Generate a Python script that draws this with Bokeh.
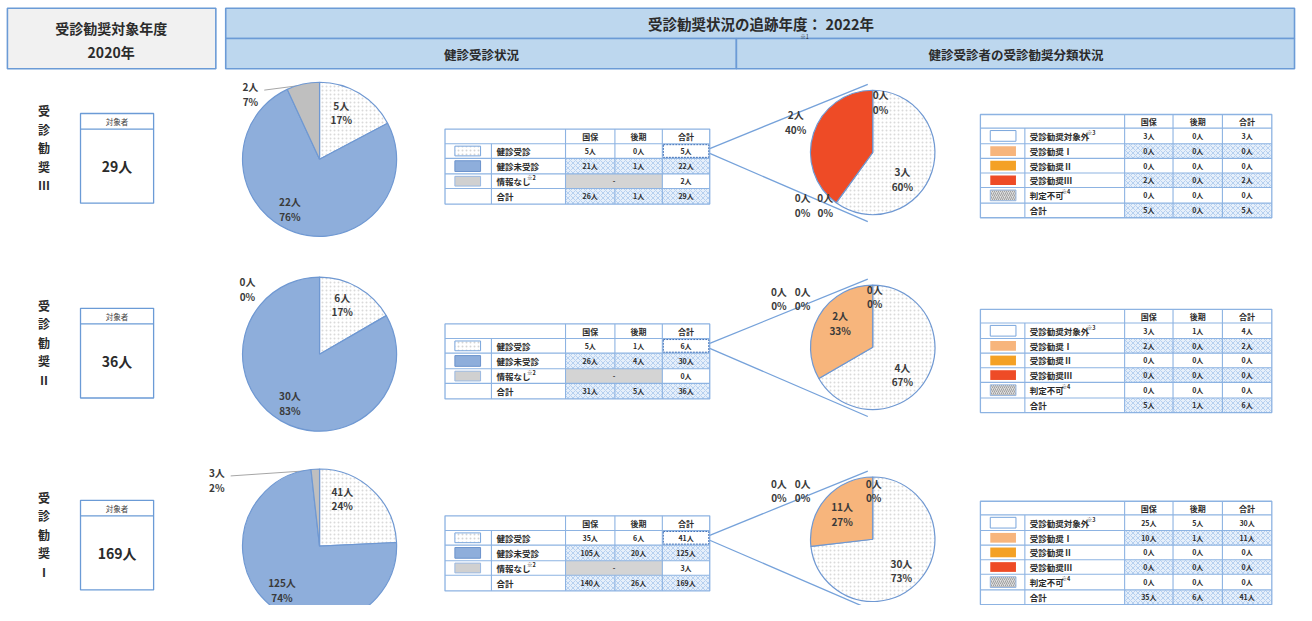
import math
from collections import defaultdict
from bokeh.plotting import figure
from bokeh.models import Range1d
from bokeh.embed import file_html
from bokeh.resources import INLINE
from bokeh.core.properties import value

# ---------------- data ----------------
grades = ["Ⅲ", "Ⅱ", "Ⅰ"]
targets = [29, 36, 169]
col_names = ["国保", "後期", "合計"]
exam_labels = ["健診受診", "健診未受診", "情報なし", "合計"]
exam_notes = ["", "", "※2", ""]
exam_kokuho = [[5, 21], [5, 26], [35, 105]]      # 健診受診, 健診未受診
exam_kouki = [[0, 1], [1, 4], [6, 20]]
exam_nodata = [2, 0, 3]
class_labels = ["受診勧奨対象外", "受診勧奨Ⅰ", "受診勧奨Ⅱ", "受診勧奨Ⅲ", "判定不可", "合計"]
class_notes = ["※3", "", "", "", "※4", ""]
class_kokuho = [[3, 0, 0, 2, 0], [3, 2, 0, 0, 0], [25, 10, 0, 0, 0]]
class_kouki = [[0, 0, 0, 0, 0], [1, 0, 0, 0, 0], [5, 1, 0, 0, 0]]

# ---------------- style ----------------
FONT = "Noto Sans CJK JP"
TXT = "#2b2b2b"
LINE_BLUE = "#6b9bd6"
GRID = "#8db3e2"
PIE_BLUE = "#8eaedb"
PIE_GRAY = "#bfbfbf"
CLASS_COLORS = ["#ffffff", "#f7b57c", "#f4a125", "#ee4b26", "#dcdcdc"]

ROW_DY = [0, 200, 397]
P1_LAB = [[(22, -48), (-30, 51), (-70, -67)],
          [(23, -51), (-30, 50), (-73, -67)],
          [(23, -49), (-38, 45), (-104, -68)]]
P2_LAB = [[(30, 27), (-71, 54), (-48, 54), (-78, -31), (8, -52)],
          [(30, 28), (-33, -25), (-95, -50), (-71, -50), (2, -52)],
          [(29, 32), (-31, -26), (-95, -50), (-71, -50), (1, -50)]]

p = figure(width=1296, height=605, x_range=Range1d(0, 1312), y_range=Range1d(621, 0),
           output_backend="svg", toolbar_location=None, min_border=0,
           x_axis_type=None, y_axis_type=None)
p.grid.visible = False
p.outline_line_color = None
p.background_fill_color = "white"
p.border_fill_color = "white"

QSTYLE = {
    "hdr_gray": dict(fill_color="#f1f1f1", line_color=LINE_BLUE, line_width=1.6),
    "hdr_blue": dict(fill_color="#bdd7ee", line_color=LINE_BLUE, line_width=1.6),
    "white_box": dict(fill_color="white", line_color=LINE_BLUE, line_width=1.3),
    "hatch_blue": dict(fill_color="#e6effa", line_color=None, hatch_pattern="diagonal_cross",
                       hatch_color="#a9c8ec", hatch_scale=5, hatch_weight=0.8),
    "gray_cell": dict(fill_color="#d4d4d4", line_color=None),
    "sw_white": dict(fill_color="white", line_color="#7aa6dc", line_width=1,
                     hatch_pattern="dot", hatch_color="#d4d4d4", hatch_scale=4),
    "sw_white2": dict(fill_color="white", line_color="#7aa6dc", line_width=1),
    "sw_blue": dict(fill_color=PIE_BLUE, line_color="#6b93cc", line_width=1),
    "sw_gray": dict(fill_color="#d0d0d0", line_color="#9ab8e0", line_width=1),
    "sw_c1": dict(fill_color=CLASS_COLORS[1], line_color=None),
    "sw_c2": dict(fill_color=CLASS_COLORS[2], line_color=None),
    "sw_c3": dict(fill_color=CLASS_COLORS[3], line_color=None),
    "sw_c4": dict(fill_color=CLASS_COLORS[4], line_color="#9ab8e0", line_width=1,
                  hatch_pattern="right_diagonal_line", hatch_color="#a0a0a0", hatch_scale=4),
    "frame": dict(fill_color=None, line_color=GRID, line_width=1.3),
    "hilite": dict(fill_color=None, line_color="#3d6fb8", line_width=1, line_dash="2 1"),
}
quads = defaultdict(lambda: dict(left=[], right=[], top=[], bottom=[]))
QORDER = ["hdr_gray", "hdr_blue", "white_box", "hatch_blue", "gray_cell", "sw_white", "sw_white2",
          "sw_blue", "sw_gray", "sw_c1", "sw_c2", "sw_c3", "sw_c4"]


def box(style, l, r, t, b):
    q = quads[style]
    q["left"].append(l); q["right"].append(r); q["top"].append(t); q["bottom"].append(b)


LSTYLE = {
    "grid": dict(line_color=GRID, line_width=1.1),
    "blue": dict(line_color=LINE_BLUE, line_width=1.3),
    "zoom": dict(line_color="#76a2da", line_width=1.3),
    "leader": dict(line_color="#a6a6a6", line_width=1),
}
segs = defaultdict(lambda: dict(xs=[], ys=[]))


def seg(style, x0, y0, x1, y1):
    segs[style]["xs"].append([x0, x1]); segs[style]["ys"].append([y0, y1])


txt = defaultdict(lambda: dict(x=[], y=[], text=[]))


def label(size, x, y, s, bold=True, align="center", color=TXT):
    t = txt[(size, bold, align, color)]
    t["x"].append(x); t["y"].append(y); t["text"].append(s)


wedges = []


def pie(cx, cy, R, vals, styles):
    total = sum(vals)
    c = 0.0
    mids = []
    for v, st in zip(vals, styles):
        a0 = math.pi / 2 - 2 * math.pi * c / total
        c += v
        a1 = math.pi / 2 - 2 * math.pi * c / total
        mids.append((a0 + a1) / 2)
        if v > 0:
            wedges.append((cx, cy, R, a0, a1, st))
    return total, mids


def pct(v, total):
    return f"{int(v * 100 / total + 0.5)}%"


# ---------------- header ----------------
box("hdr_gray", 7, 218, 8, 70)
label(14, 112, 28, "受診勧奨対象年度")
label(14, 112, 53, "2020年")
box("hdr_blue", 228, 1310, 8, 39)
box("hdr_blue", 228, 745, 39, 70)
box("hdr_blue", 745, 1310, 39, 70)
label(14.5, 770, 24, "受診勧奨状況の追跡年度： 2022年")
label(5.5, 814, 37, "※1", bold=False)
label(12.5, 487, 55, "健診受診状況")
label(12.5, 1028, 55, "健診受診者の受診勧奨分類状況")

# ---------------- rows ----------------
for r in range(3):
    d = ROW_DY[r]
    # vertical label
    for k, ch in enumerate(["受", "診", "勧", "奨", grades[r]]):
        label(12, 44, 113 + 19 * k + d, ch)
    # target box
    box("white_box", 81, 155, 116 + d, 208 + d)
    seg("blue", 81, 132 + d, 155, 132 + d)
    label(7.5, 118, 124 + d, "対象者", bold=False, color="#444444")
    label(14, 118, 170 + d, f"{targets[r]}人")

    # ---- pie 1 : exam status ----
    vals1 = [exam_kokuho[r][0] + exam_kouki[r][0], exam_kokuho[r][1] + exam_kouki[r][1], exam_nodata[r]]
    cx1, cy1, R1 = 323, 163 + d, 78
    tot1, mids1 = pie(cx1, cy1, R1, vals1, ["white_dot", "blue", "gray"])
    for i, v in enumerate(vals1):
        dx, dy = P1_LAB[r][i]
        label(10, cx1 + dx, cy1 + dy - 7.5, f"{v}人", color="#3a3a3a")
        label(10, cx1 + dx, cy1 + dy + 7.5, pct(v, tot1), color="#3a3a3a")
    if vals1[2] > 0:
        a = mids1[2]
        dx, dy = P1_LAB[r][2]
        seg("leader", cx1 + dx + 14, cy1 + dy - 4, cx1 + R1 * math.cos(a), cy1 - R1 * math.sin(a))

    # ---- table 1 ----
    xe = [450, 497, 572, 622, 670, 718]
    ye = [v + d for v in [132, 147, 162, 178, 193, 209]]
    row_vals = [
        [exam_kokuho[r][0], exam_kouki[r][0], vals1[0]],
        [exam_kokuho[r][1], exam_kouki[r][1], vals1[1]],
        [None, None, vals1[2]],
        [sum(exam_kokuho[r]), sum(exam_kouki[r]), tot1],
    ]
    for i in range(4):
        t, b = ye[i + 1], ye[i + 2]
        if i in (1, 3):
            box("hatch_blue", xe[2], xe[5], t, b)
        if i == 2:
            box("gray_cell", xe[2], xe[4], t, b)
            label(7, (xe[2] + xe[4]) / 2, (t + b) / 2, "-")
        sw = ["sw_white", "sw_blue", "sw_gray", None][i]
        if sw:
            box(sw, 460, 486, t + 2.5, b - 2.5)
        label(8.5, xe[1] + 5, (t + b) / 2, exam_labels[i], align="left")
        if exam_notes[i]:
            label(5.5, xe[1] + 5 + 8.6 * len(exam_labels[i]) + 1, (t + b) / 2 - 3, exam_notes[i])
        for j in range(3):
            v = row_vals[i][j]
            if v is not None:
                label(7, (xe[2 + j] + xe[3 + j]) / 2, (t + b) / 2, f"{v}人")
    for j in range(3):
        label(8, (xe[2 + j] + xe[3 + j]) / 2, (ye[0] + ye[1]) / 2, col_names[j])
    for y in ye[1:-1]:
        seg("grid", xe[0], y, xe[5], y)
    seg("grid", xe[1], ye[1], xe[1], ye[5])
    for x in xe[2:5]:
        if x == xe[3]:
            seg("grid", x, ye[0], x, ye[3]); seg("grid", x, ye[4], x, ye[5])
        else:
            seg("grid", x, ye[0], x, ye[5])
    box("frame", xe[0], xe[5], ye[0], ye[5])
    box("hilite", xe[4] + 1, xe[5] - 1, ye[1] + 1, ye[2] - 1)

    # ---- pie 2 : classification ----
    vals2 = [class_kokuho[r][k] + class_kouki[r][k] for k in range(5)]
    cx2, cy2, R2 = 883, 156 + d, 63
    # zoom lines from table cell to pie
    seg("zoom", xe[5], ye[1] + 5, cx2 - 5, cy2 - 70)
    seg("zoom", xe[5], ye[1] + 10, cx2 - 5, cy2 + 71)
    tot2, mids2 = pie(cx2, cy2, R2, vals2, ["white_dot", "c1", "c2", "c3", "c4"])
    for k, v in enumerate(vals2):
        dx, dy = P2_LAB[r][k]
        label(10, cx2 + dx, cy2 + dy - 7.5, f"{v}人", color="#3a3a3a")
        label(10, cx2 + dx, cy2 + dy + 7.5, pct(v, tot2), color="#3a3a3a")

    # ---- table 2 ----
    xe2 = [992, 1037, 1138, 1187, 1237, 1287]
    ye2 = [v + d for v in [117, 131, 147, 162, 177, 192, 208, 223]]
    for i in range(6):
        t, b = ye2[i + 1], ye2[i + 2]
        if i in (1, 3, 5):
            box("hatch_blue", xe2[2], xe2[5], t, b)
        sw = ["sw_white2", "sw_c1", "sw_c2", "sw_c3", "sw_c4", None][i]
        if sw:
            box(sw, 1002, 1028, t + 2.5, b - 2.5)
        label(8.5, xe2[1] + 5, (t + b) / 2, class_labels[i], align="left")
        if class_notes[i]:
            label(5.5, xe2[1] + 5 + 8.6 * len(class_labels[i]) + 2, (t + b) / 2 - 3, class_notes[i])
        if i < 5:
            cells = [class_kokuho[r][i], class_kouki[r][i], vals2[i]]
        else:
            cells = [sum(class_kokuho[r]), sum(class_kouki[r]), tot2]
        for j in range(3):
            label(7, (xe2[2 + j] + xe2[3 + j]) / 2, (t + b) / 2, f"{cells[j]}人")
    for j in range(3):
        label(8, (xe2[2 + j] + xe2[3 + j]) / 2, (ye2[0] + ye2[1]) / 2, col_names[j])
    for y in ye2[1:-1]:
        seg("grid", xe2[0], y, xe2[5], y)
    seg("grid", xe2[1], ye2[1], xe2[1], ye2[7])
    for x in xe2[2:5]:
        seg("grid", x, ye2[0], x, ye2[7])
    box("frame", xe2[0], xe2[5], ye2[0], ye2[7])

# ---------------- render ----------------
for st in QORDER:
    if st in quads:
        p.quad(**quads[st], **QSTYLE[st])

for st in ["grid", "zoom", "leader"]:
    if st in segs:
        p.multi_line(xs=segs[st]["xs"], ys=segs[st]["ys"], **LSTYLE[st])

WSTYLE = {
    "white_dot": dict(fill_color="white", hatch_pattern="dot", hatch_color="#dadada", hatch_scale=4),
    "blue": dict(fill_color=PIE_BLUE),
    "gray": dict(fill_color=PIE_GRAY),
    "c1": dict(fill_color=CLASS_COLORS[1]),
    "c2": dict(fill_color=CLASS_COLORS[2]),
    "c3": dict(fill_color=CLASS_COLORS[3]),
    "c4": dict(fill_color=CLASS_COLORS[4], hatch_pattern="right_diagonal_line", hatch_color="#a0a0a0"),
}
for (cx, cy, R, a0, a1, st) in wedges:
    p.wedge(x=[cx], y=[cy], radius=R, start_angle=a0, end_angle=a1, direction="clock",
            line_color="#6f98d2", line_width=1.2, **WSTYLE[st])

for st in ["blue"]:
    p.multi_line(xs=segs[st]["xs"], ys=segs[st]["ys"], **LSTYLE[st])
for st in ["frame", "hilite"]:
    p.quad(**quads[st], **QSTYLE[st])

for (size, bold, align, color), t in txt.items():
    p.text(x=t["x"], y=t["y"], text=t["text"], text_font=value(FONT), text_font_size=f"{size}px",
           text_font_style="bold" if bold else "normal", text_align=align, text_baseline="middle",
           text_color=color)

open("out.html", "w").write(file_html(p, INLINE))
